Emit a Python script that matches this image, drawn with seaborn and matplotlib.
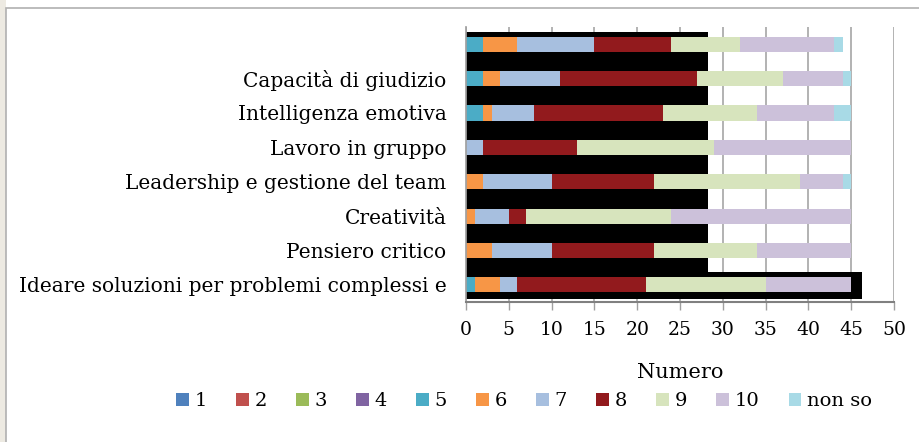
import numpy as np
import pandas as pd
import matplotlib
matplotlib.use("Agg")
import matplotlib.pyplot as plt
from matplotlib.patches import Patch, Rectangle
import seaborn as sns

categories = ["", "Capacità di giudizio", "Intelligenza emotiva", "Lavoro in gruppo",
              "Leadership e gestione del team", "Creatività", "Pensiero critico",
              "Ideare soluzioni per problemi complessi e"]
series_names = ["1", "2", "3", "4", "5", "6", "7", "8", "9", "10", "non so"]
s1 = [0, 0, 0, 0, 0, 0, 0, 0]
s2 = [0, 0, 0, 0, 0, 0, 0, 0]
s3 = [0, 0, 0, 0, 0, 0, 0, 0]
s4 = [0, 0, 0, 0, 0, 0, 0, 0]
s5 = [2, 2, 2, 0, 0, 0, 0, 1]
s6 = [4, 2, 1, 0, 2, 1, 3, 3]
s7 = [9, 7, 5, 2, 8, 4, 7, 2]
s8 = [9, 16, 15, 11, 12, 2, 12, 15]
s9 = [8, 10, 11, 16, 17, 17, 12, 14]
s10 = [11, 7, 9, 16, 5, 21, 11, 10]
s_nonso = [1, 1, 2, 0, 1, 0, 0, 0]
x_ticks = [0, 5, 10, 15, 20, 25, 30, 35, 40, 45, 50]

colors = ["#4F81BD", "#C0504D", "#9BBB59", "#8064A2", "#4BACC6", "#F79646",
          "#A7BFDF", "#921A1D", "#D7E4BD", "#CCC1DA", "#A8DAE6"]

sns.set_theme(style="white")
plt.rcParams['font.family'] = ['DejaVu Serif']
plt.rcParams['text.color'] = 'black'
plt.rcParams['xtick.color'] = 'black'
plt.rcParams['ytick.color'] = 'black'

all_series = [s1, s2, s3, s4, s5, s6, s7, s8, s9, s10, s_nonso]
df = pd.DataFrame({name: vals for name, vals in zip(series_names, all_series)})
df["cat"] = categories
cum = df[series_names].cumsum(axis=1)
cum["cat"] = categories

fig = plt.figure(figsize=(9.2, 4.42), dpi=100)
# outer frame
fig.patches.append(Rectangle((0, 0), 6/920, 1, transform=fig.transFigure,
                             facecolor="#EDEAE2", edgecolor="none", zorder=0))
fig.patches.append(Rectangle((6/920, -0.01), 1, 1 - 8/442 + 0.01, transform=fig.transFigure,
                             facecolor="none", edgecolor="#B0B0B0", lw=1.2, zorder=0))

ax = fig.add_axes([466/920, 140/442, 428/920, 275/442])

# black backdrop
ax.fill_betweenx([-0.36, 7.42], 0, 28.3, color="black", zorder=1.2, lw=0)
ax.fill_betweenx([6.62, 7.42], 0, 46.3, color="black", zorder=1.2, lw=0)

for i in range(len(series_names) - 1, -1, -1):
    name = series_names[i]
    sns.barplot(data=cum, x=name, y="cat", orient="h", color=colors[i],
                width=0.44, saturation=1, ax=ax, zorder=2 + (len(series_names) - i) * 0.01,
                linewidth=0)

ax.set_xlim(0, 50)
ax.set_ylim(7.5, -0.5)
ax.set_xticks(x_ticks)
ax.set_xticklabels([str(t) for t in x_ticks], fontsize=13.5, color="black")
ax.set_yticks(range(len(categories)))
ax.set_yticklabels(categories, fontsize=14.5, color="black")
ax.tick_params(axis="y", length=0, pad=14)
ax.set_yticks(np.arange(-0.5, 8, 1), minor=True)
ax.tick_params(axis="y", which="minor", length=7, direction="inout", color="#A0A0A0", width=1)
ax.tick_params(axis="x", length=6, direction="out", color="#A0A0A0", width=1, bottom=True, pad=8)
ax.grid(axis="x", color="#A6A6A6", lw=1.2, zorder=0)
ax.set_axisbelow(True)
ax.set_ylabel("")
ax.set_xlabel("Numero", fontsize=15, labelpad=17, color="black")
for sp in ["top", "right"]:
    ax.spines[sp].set_visible(False)
ax.spines["left"].set_color("#A0A0A0")
ax.spines["bottom"].set_color("#808080")
ax.spines["bottom"].set_linewidth(1.5)

handles = [Patch(facecolor=c, edgecolor="none") for c in colors]
fig.legend(handles, series_names, loc="center", bbox_to_anchor=(524/920, 41/442),
           ncol=11, frameon=False, fontsize=14, handlelength=0.65, handleheight=0.65,
           handletextpad=0.3, columnspacing=1.5)

fig.savefig("out.png", dpi=100)
